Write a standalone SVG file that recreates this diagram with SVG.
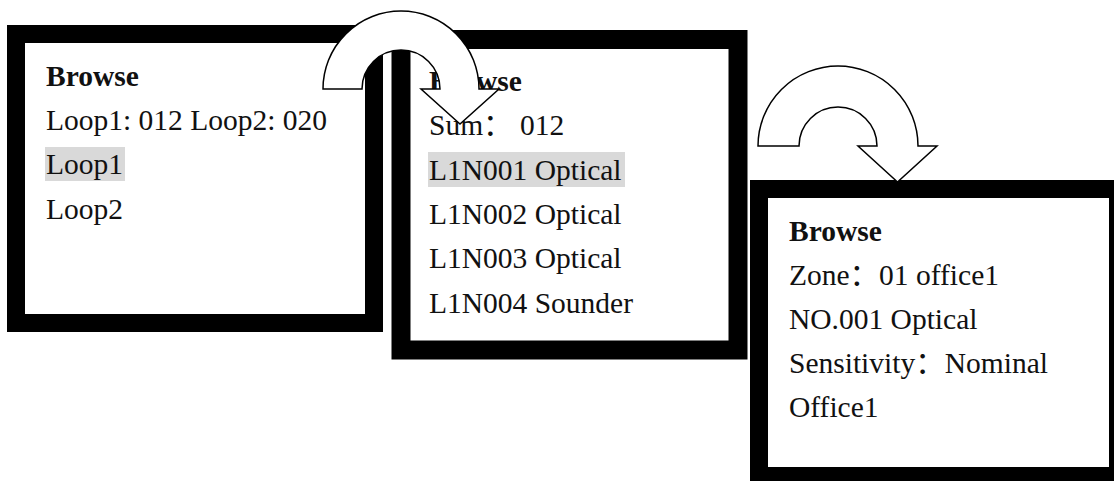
<svg xmlns="http://www.w3.org/2000/svg" width="1114" height="481" viewBox="0 0 1114 481">
<style>
.frame{fill:#fff;stroke:#000;stroke-width:18}
.hl{fill:#d9d9d9}
.t{font-family:"Liberation Serif","Noto Sans CJK SC",serif;font-size:29.5px;fill:#111}
.b{font-weight:bold}
.arrow{fill:#fff;stroke:#000;stroke-width:1.5;stroke-linejoin:miter}
</style>
<rect width="1114" height="481" fill="#fff"/>
<g id="screen1">
<rect class="frame" x="16" y="34" width="358" height="289"/>
<rect class="hl" x="45" y="147" width="80" height="34"/>
<text class="t b" x="46" y="86">Browse</text>
<text class="t" x="46" y="130">Loop1: 012 Loop2: 020</text>
<text class="t" x="46" y="174">Loop1</text>
<text class="t" x="46" y="219">Loop2</text>
</g>
<g id="screen2">
<rect class="frame" x="401" y="39.5" width="337" height="310.5" style="stroke-width:19"/>
<rect class="hl" x="428" y="152" width="197" height="35"/>
<text class="t b" x="429" y="91">Browse</text>
<text class="t" x="429" y="135">Sum： 012</text>
<text class="t" x="429" y="180">L1N001 Optical</text>
<text class="t" x="429" y="224">L1N002 Optical</text>
<text class="t" x="429" y="268">L1N003 Optical</text>
<text class="t" x="429" y="313">L1N004 Sounder</text>
</g>
<g id="screen3">
<rect class="frame" x="759" y="189" width="359" height="287"/>
<text class="t b" x="789" y="241">Browse</text>
<text class="t" x="789" y="285">Zone：01 office1</text>
<text class="t" x="789" y="329">NO.001 Optical</text>
<text class="t" x="789" y="373">Sensitivity：Nominal</text>
<text class="t" x="789" y="417">Office1</text>
</g>
<g id="connectors">
<path class="arrow" d="M323,89 A78,78 0 0 1 479,89 L499,89 L460,124 L421,89 L440,89 A39,39 0 0 0 362,89 Z"/>
<path class="arrow" d="M758,146 A80,80 0 0 1 918,146 L937,146 L897.5,182 L858,146 L877,146 A39,39 0 0 0 799,146 Z"/>
</g>
</svg>
